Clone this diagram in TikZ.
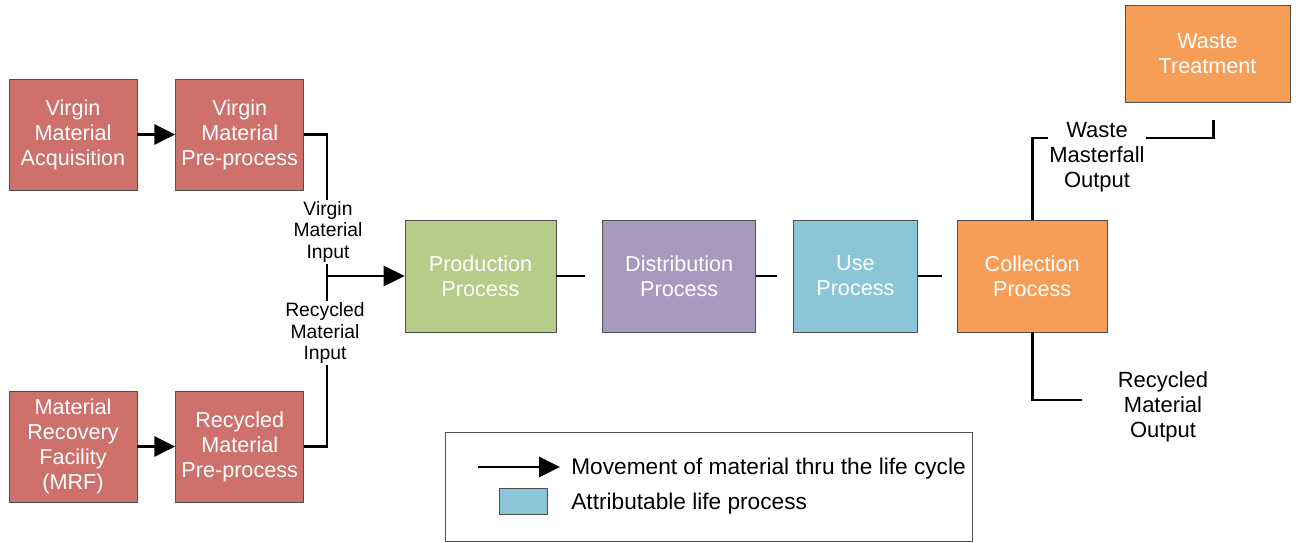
\documentclass[tikz,border=0pt]{standalone}
\usepackage{fontspec}
\setmainfont{Liberation Sans}
\usepackage{xcolor}
\usepackage{tikz}
\usetikzlibrary{arrows.meta, positioning}
\definecolor{myred}{RGB}{205,113,106}
\definecolor{mygreen}{RGB}{182,205,138}
\definecolor{mypurple}{RGB}{168,153,192}
\definecolor{myblue}{RGB}{138,198,216}
\definecolor{myorange}{RGB}{246,158,88}
\definecolor{myedge}{RGB}{80,80,80}
\tikzset{
  block/.style={rectangle, draw=myedge, text=white, align=center,
    inner sep=0pt, line width=0.4pt, font=\fontsize{12.3}{14.2}\selectfont},
  arrow/.style={-{Triangle[length=0.42cm, width=0.4cm]}, line width=1.7pt},
  line/.style={line width=1.7pt},
  lbl/.style={align=center, fill=white, inner sep=1pt, font=\fontsize{11}{12}\selectfont},
  outlbl/.style={align=center, fill=white, inner sep=1pt, font=\fontsize{12.5}{14.2}\selectfont},
  legtext/.style={anchor=west, inner sep=0pt, font=\fontsize{12.9}{15}\selectfont}
}

\begin{document}
\begin{tikzpicture}[node distance=0.76cm and 0.76cm,
  rnode/.style={block, fill=myred, minimum width=2.56cm, minimum height=2.22cm},
  pnode/.style={block, minimum width=3.02cm, minimum height=2.24cm}]
  \useasboundingbox (0,0) rectangle (26.02,-10.86);

  % Nodes
  \node[rnode] (vma) at (1.46,-2.69) {Virgin\\Material\\Acquisition};
  \node[rnode, right=0.76cm of vma] (vmp) {Virgin\\Material\\Pre-process};
  \node[rnode] (mrf) at (1.46,-8.93) {Material\\Recovery\\Facility\\(MRF)};
  \node[rnode, right=0.76cm of mrf] (rmp) {Recycled\\Material\\Pre-process};

  \node[pnode, fill=mygreen] (prod) at (9.61,-5.52) {Production\\Process};
  \node[pnode, fill=mypurple, minimum width=3.06cm, right=0.92cm of prod] (dist) {Distribution\\Process};
  \node[pnode, fill=myblue, minimum width=2.48cm, right=0.74cm of dist] (use) {Use\\Process};
  \node[pnode, fill=myorange, minimum width=3.0cm, right=0.78cm of use] (coll) {Collection\\Process};
  \node[block, fill=myorange, minimum width=3.3cm, minimum height=1.94cm] (waste) at (24.15,-1.07) {Waste\\Treatment};

  % Inputs
  \coordinate (jn) at (6.54,-5.52);
  \draw[arrow] (vma) -- (vmp);
  \draw[arrow] (mrf) -- (rmp);
  \draw[line] (vmp.east) -| (jn);
  \draw[line] (rmp.east) -| (jn);
  \draw[arrow] (jn) -- (prod.west);
  \node[lbl] (vmi) at (6.56,-4.64) {Virgin\\Material\\Input};
  \node[lbl] (rmi) at (6.5,-6.66) {Recycled\\Material\\Input};

  % Stubs between processes
  \coordinate[right=0.58cm of prod.east] (s1);
  \coordinate[right=0.42cm of dist.east] (s2);
  \coordinate[right=0.48cm of use.east] (s3);
  \draw[line] (prod.east) -- (s1);
  \draw[line] (dist.east) -- (s2);
  \draw[line] (use.east) -- (s3);

  % Outputs
  \coordinate (wcorner) at (24.26,-2.76);
  \coordinate (wend) at (24.26,-2.40);
  \draw[line] (coll.north) |- (wcorner) -- (wend);
  \node[outlbl] (wmo) at (21.94,-3.14) {Waste\\Masterfall\\Output};
  \coordinate (rend) at (21.64,-8.0);
  \draw[line] (coll.south) |- (rend);
  \node[outlbl] (rmo) at (23.26,-8.14) {Recycled\\Material\\Output};

  % Legend
  \node[draw=myedge, minimum width=10.54cm, minimum height=2.18cm, inner sep=0pt] (legend) at (14.17,-9.73) {};
  \coordinate (la) at (9.56,-9.34);
  \coordinate (lb) at (11.2,-9.34);
  \draw[arrow] (la) -- (lb);
  \node[legtext] (ltxt1) at (11.42,-9.38) {Movement of material thru the life cycle};
  \node[draw=myedge, fill=myblue, minimum width=0.96cm, minimum height=0.52cm, inner sep=0pt] (lbox) at (10.46,-10.02) {};
  \node[legtext] (ltxt2) at (11.42,-10.08) {Attributable life process};

\end{tikzpicture}
\end{document}
